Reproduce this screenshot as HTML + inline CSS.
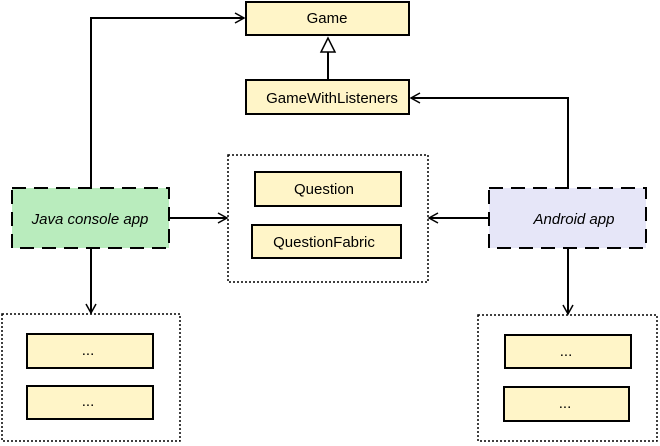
<!DOCTYPE html>
<html><head><meta charset="utf-8"><style>
html,body{margin:0;padding:0;background:#fff;width:660px;height:446px;overflow:hidden}
svg text{font-family:"Liberation Sans",sans-serif;font-size:15px;fill:#000}
</style></head><body>
<svg width="660" height="446" xmlns="http://www.w3.org/2000/svg">
<defs>
<marker id="a" markerWidth="12" markerHeight="12" refX="10" refY="6" orient="auto" markerUnits="userSpaceOnUse">
<path d="M1,1 L10,6 L1,11" fill="none" stroke="#000" stroke-width="1.5"/>
</marker>
</defs>
<g stroke="#000" stroke-width="2" fill="#fff5c8">
<rect x="246" y="2" width="163" height="33"/>
<rect x="246" y="80" width="163" height="34"/>
<rect x="255" y="172" width="146" height="34"/>
<rect x="252" y="225" width="149" height="33"/>
<rect x="27" y="334" width="126" height="34"/>
<rect x="27" y="386" width="126" height="33"/>
<rect x="505" y="335" width="126" height="33"/>
<rect x="504" y="387" width="125" height="34"/>
</g>
<g stroke="#000" stroke-width="1.5" fill="none" stroke-dasharray="2,2">
<rect x="228" y="155" width="200" height="127"/>
<rect x="2" y="314" width="178" height="127"/>
<rect x="478" y="315" width="179" height="126"/>
</g>
<rect x="12" y="188" width="157" height="60" fill="#b9ecbd" stroke="#000" stroke-width="2" stroke-dasharray="14,8"/>
<rect x="489" y="188" width="157" height="60" fill="#e6e6f8" stroke="#000" stroke-width="2" stroke-dasharray="14,8"/>
<g stroke="#000" stroke-width="2" fill="none">
<path d="M91,188 V18 H244" marker-end="url(#a)"/>
<path d="M568,188 V98 H411" marker-end="url(#a)"/>
<path d="M169,218 H227" marker-end="url(#a)"/>
<path d="M489,218 H429" marker-end="url(#a)"/>
<path d="M91,248 V313" marker-end="url(#a)"/>
<path d="M568,248 V314" marker-end="url(#a)"/>
<path d="M328,80 V52"/>
</g>
<path d="M328,38 L321,52 L335,52 Z" fill="#fff" stroke="#000" stroke-width="1.5"/>
<g text-anchor="middle">
<text x="327" y="23">Game</text>
<text x="332" y="103">GameWithListeners</text>
<text x="324" y="194">Question</text>
<text x="324" y="247">QuestionFabric</text>
<text x="90" y="224" font-style="italic">Java console app</text>
<text x="574" y="224" font-style="italic">Android app</text>
<text x="88" y="355">...</text>
<text x="88" y="406">...</text>
<text x="566" y="356">...</text>
<text x="565" y="408">...</text>
</g>
</svg>
</body></html>
